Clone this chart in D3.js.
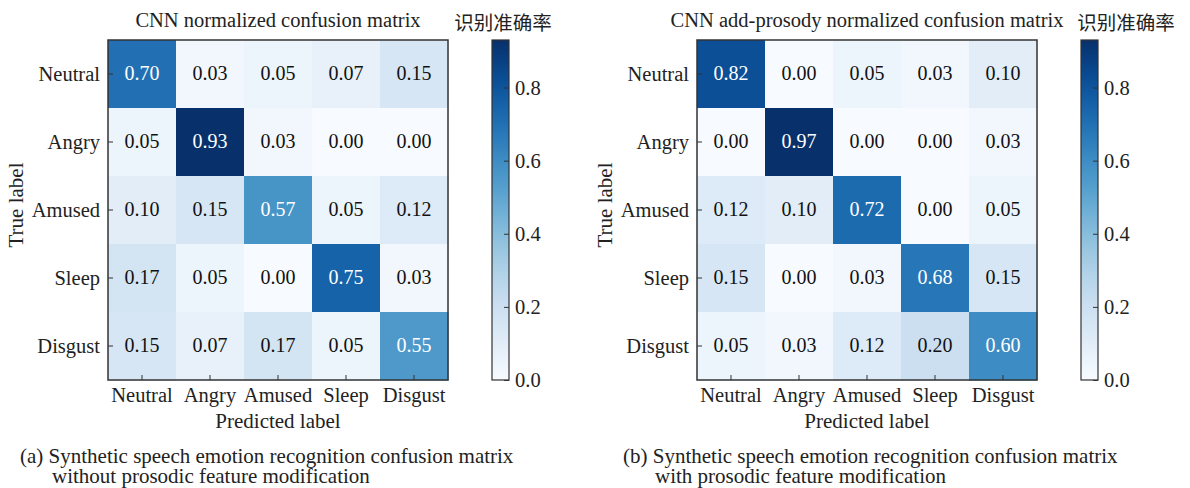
<!DOCTYPE html>
<html>
<head>
<meta charset="utf-8">
<script src="https://cdn.jsdelivr.net/npm/d3@7"></script>
<style>
  body { margin: 0; background: #fff; overflow: hidden; }
  svg { display: block; }
  svg text { font-family: "Liberation Serif", "DejaVu Serif", serif; fill: #222; }
  .cjk { font-family: "Noto Sans CJK SC", sans-serif !important; }
  .axis .domain { display: none; }
  .axis line { stroke: #333; }
</style>
</head>
<body>
<svg width="1190" height="488"></svg>
<script>
const width = 1190;
const height = 488;

const labels = ['Neutral', 'Angry', 'Amused', 'Sleep', 'Disgust'];

const cnnValues = [
    [0.70, 0.03, 0.05, 0.07, 0.15],
    [0.05, 0.93, 0.03, 0.00, 0.00],
    [0.10, 0.15, 0.57, 0.05, 0.12],
    [0.17, 0.05, 0.00, 0.75, 0.03],
    [0.15, 0.07, 0.17, 0.05, 0.55]
];

const prosodyValues = [
    [0.82, 0.00, 0.05, 0.03, 0.10],
    [0.00, 0.97, 0.00, 0.00, 0.03],
    [0.12, 0.10, 0.72, 0.00, 0.05],
    [0.15, 0.00, 0.03, 0.68, 0.15],
    [0.05, 0.03, 0.12, 0.20, 0.60]
];

const colorMax = 0.93;
const colorTicks = [0.0, 0.2, 0.4, 0.6, 0.8];
const colorTitle = '识别准确率';

const panels = [
    {
        values: cnnValues,
        title: 'CNN normalized confusion matrix',
        caption: ['(a) Synthetic speech emotion recognition confusion matrix',
                  'without prosodic feature modification'],
        left: 108, capX: 20, capIndent: 52,
        cbX: 492, cbTitleX: 503
    },
    {
        values: prosodyValues,
        title: 'CNN add-prosody normalized confusion matrix',
        caption: ['(b) Synthetic speech emotion recognition confusion matrix',
                  'with prosodic feature modification'],
        left: 697, capX: 623, capIndent: 655,
        cbX: 1081, cbTitleX: 1126
    }
];

const svg = d3.select('svg');

const marginTop = 40;
const innerWidth = 340;
const innerHeight = 340;
const cbWidth = 17;

const color = d3.scaleSequential(d3.interpolateBlues).domain([0, colorMax]).clamp(true);

// gradient for the colour bars
const grad = svg.append('defs').append('linearGradient')
    .attr('id', 'cbGrad')
    .attr('x1', 0).attr('y1', 1).attr('x2', 0).attr('y2', 0);
d3.range(0, 1.0001, 0.05).forEach(t => {
    grad.append('stop')
        .attr('offset', t)
        .attr('stop-color', color(t * colorMax));
});

const render = (p) => {
    const xScale = d3.scaleBand().domain(labels).range([0, innerWidth]);
    const yScale = d3.scaleBand().domain(labels).range([0, innerHeight]);

    const g = svg.append('g')
        .attr('transform', 'translate(' + p.left + ', ' + marginTop + ')');

    const cells = [];
    p.values.forEach((row, i) => {
        row.forEach((v, j) => cells.push({ t: labels[i], p: labels[j], v: v }));
    });

    g.selectAll('rect.cell')
        .data(cells)
        .enter()
        .append('rect')
        .attr('class', 'cell')
        .attr('x', d => xScale(d.p))
        .attr('y', d => yScale(d.t))
        .attr('width', xScale.bandwidth() + 0.5)
        .attr('height', yScale.bandwidth() + 0.5)
        .attr('fill', d => color(d.v));

    g.selectAll('text.val')
        .data(cells)
        .enter()
        .append('text')
        .attr('class', 'val')
        .attr('x', d => xScale(d.p) + xScale.bandwidth() / 2)
        .attr('y', d => yScale(d.t) + yScale.bandwidth() / 2)
        .attr('dy', '0.3em')
        .attr('text-anchor', 'middle')
        .style('font-size', '20px')
        .style('fill', d => d.v > colorMax / 2 ? '#fff' : '#111')
        .text(d => d.v.toFixed(2));

    g.append('rect')
        .attr('width', innerWidth)
        .attr('height', innerHeight)
        .attr('fill', 'none')
        .attr('stroke', '#333')
        .attr('stroke-width', 1.5);

    const yAxisG = g.append('g').attr('class', 'axis')
        .call(d3.axisLeft(yScale).tickSizeInner(-5).tickSizeOuter(0).tickPadding(8));
    yAxisG.selectAll('text').style('font-size', '20.5px');

    const xAxisG = g.append('g').attr('class', 'axis')
        .attr('transform', 'translate(0, ' + innerHeight + ')')
        .call(d3.axisBottom(xScale).tickSizeInner(-5).tickSizeOuter(0).tickPadding(7));
    xAxisG.selectAll('text').style('font-size', '20.5px');

    g.append('text')
        .text('Predicted label')
        .attr('x', innerWidth / 2)
        .attr('y', innerHeight + 48)
        .attr('text-anchor', 'middle')
        .style('font-size', '21px');

    g.append('text')
        .text('True label')
        .attr('transform', 'translate(' + (-85) + ', ' + (innerHeight / 2 - 5) + ') rotate(-90)')
        .attr('text-anchor', 'middle')
        .style('font-size', '21px');

    g.append('text')
        .text(p.title)
        .attr('x', innerWidth / 2)
        .attr('y', -13)
        .attr('text-anchor', 'middle')
        .style('font-size', '20.5px');

    // colour bar
    const cScale = d3.scaleLinear().domain([0, colorMax]).range([marginTop + innerHeight, marginTop]);
    const cb = svg.append('g');
    cb.append('rect')
        .attr('x', p.cbX)
        .attr('y', marginTop)
        .attr('width', cbWidth)
        .attr('height', innerHeight)
        .attr('fill', 'url(#cbGrad)')
        .attr('stroke', '#333')
        .attr('stroke-width', 1.2);
    const cbAxis = cb.append('g').attr('class', 'axis')
        .attr('transform', 'translate(' + (p.cbX + cbWidth) + ', 0)')
        .call(d3.axisRight(cScale).tickValues(colorTicks).tickFormat(d3.format('.1f'))
            .tickSizeInner(-5).tickSizeOuter(0).tickPadding(6));
    cbAxis.selectAll('text').style('font-size', '20.5px');

    cb.append('text')
        .attr('class', 'cjk')
        .text(colorTitle)
        .attr('x', p.cbTitleX)
        .attr('y', 30)
        .attr('text-anchor', 'middle')
        .style('font-size', '19.5px');

    // caption
    svg.append('text')
        .text(p.caption[0])
        .attr('x', p.capX)
        .attr('y', 463)
        .style('font-size', '21px');
    svg.append('text')
        .text(p.caption[1])
        .attr('x', p.capIndent)
        .attr('y', 483)
        .style('font-size', '21px');
};

panels.forEach(render);
</script>
</body>
</html>
